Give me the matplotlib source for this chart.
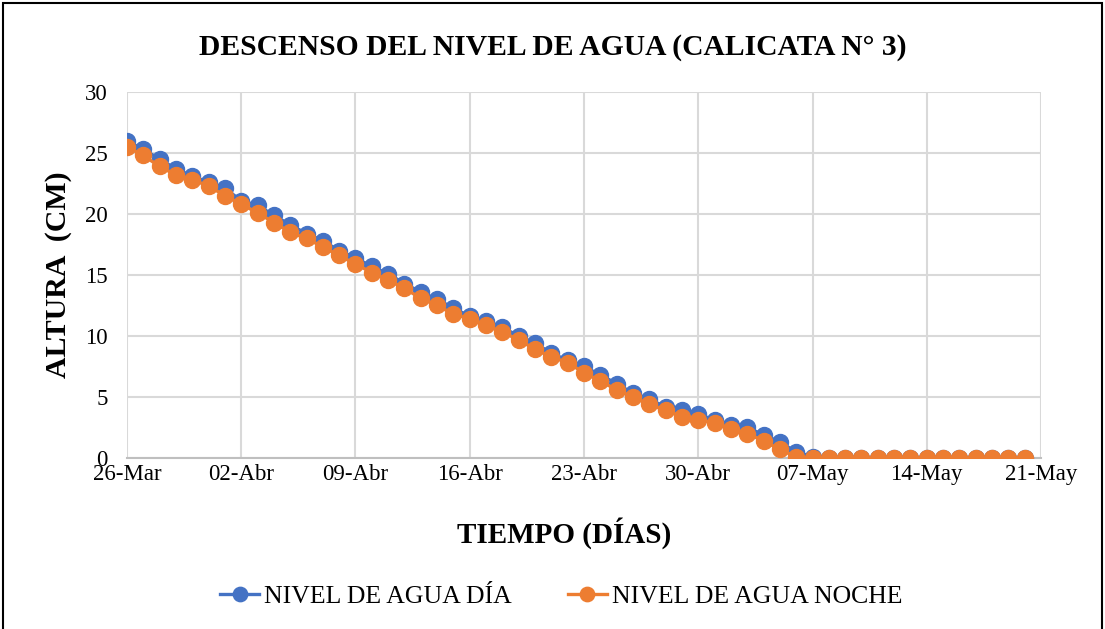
import matplotlib
matplotlib.use("Agg")
import matplotlib.pyplot as plt
import pandas as pd
from matplotlib.patches import Rectangle

plt.rcParams['font.family'] = ['Liberation Serif', 'DejaVu Serif']

start_date = "2021-03-26"
nivel_dia = [26.0, 25.3, 24.5, 23.7, 23.1, 22.6, 22.1, 21.1, 20.7, 19.9,
             19.1, 18.4, 17.8, 17.0, 16.4, 15.7, 15.1, 14.3, 13.6, 13.0,
             12.3, 11.6, 11.2, 10.7, 10.0, 9.4, 8.6, 8.0, 7.5, 6.8,
             6.1, 5.3, 4.8, 4.2, 3.9, 3.6, 3.1, 2.7, 2.5, 1.9,
             1.3, 0.5, 0.1, 0, 0, 0, 0, 0, 0, 0,
             0, 0, 0, 0, 0, 0]
nivel_noche = [25.5, 24.8, 23.9, 23.2, 22.8, 22.3, 21.5, 20.8, 20.1, 19.3,
               18.5, 18.0, 17.3, 16.6, 15.9, 15.2, 14.6, 13.9, 13.1, 12.5,
               11.8, 11.4, 10.9, 10.3, 9.7, 8.9, 8.3, 7.8, 7.0, 6.3,
               5.6, 5.0, 4.4, 3.9, 3.4, 3.1, 2.9, 2.4, 2.0, 1.4,
               0.7, 0.1, 0, 0, 0, 0, 0, 0, 0, 0,
               0, 0, 0, 0, 0, 0]
tick_dates = ["2021-03-26", "2021-04-02", "2021-04-09", "2021-04-16", "2021-04-23",
              "2021-04-30", "2021-05-07", "2021-05-14", "2021-05-21"]
tick_labels = ["26-Mar", "02-Abr", "09-Abr", "16-Abr", "23-Abr",
               "30-Abr", "07-May", "14-May", "21-May"]

dates = pd.date_range(start_date, periods=len(nivel_dia), freq="D")
ticks = pd.to_datetime(tick_dates)

fig = plt.figure(figsize=(11.05, 6.29), dpi=100)
ax = fig.add_axes([0.1149, 0.2719, 0.8272, 0.5818])

blue = "#4472C4"
orange = "#ED7D31"
ax.plot(dates, nivel_dia, color=blue, lw=2.4, marker='o', ms=11.5,
        label="NIVEL DE AGUA DÍA", zorder=3)
ax.plot(dates, nivel_noche, color=orange, lw=2.4, marker='o', ms=11.5,
        label="NIVEL DE AGUA NOCHE", zorder=4)

ax.set_xlim(ticks[0], ticks[-1])
ax.set_ylim(0, 30)
ax.set_xticks(ticks)
ax.set_xticklabels(tick_labels)
ax.set_yticks(range(0, 31, 5))
ax.grid(True, color="#D9D9D9", lw=1.5)
ax.set_axisbelow(True)
for s in ["top", "right", "left"]:
    ax.spines[s].set_visible(False)
ax.spines["bottom"].set_color("#BFBFBF")
ax.spines["bottom"].set_linewidth(1.5)
ax.tick_params(axis='both', length=0, labelsize=16.5, colors="black")
ax.tick_params(axis='x', pad=4)
ax.tick_params(axis='y', pad=14)
ax.set_xlabel("TIEMPO (DÍAS)", fontsize=21, fontweight='bold')
ax.xaxis.set_label_coords(0.478, -0.163)
ax.set_ylabel("ALTURA  (CM)", fontsize=21.5, fontweight='bold')
ax.yaxis.set_label_coords(-0.06, 0.5)

fig.text(0.5, 0.925, "DESCENSO DEL NIVEL DE AGUA (CALICATA N° 3)",
         ha='center', va='center', fontsize=21.3, fontweight='bold')

leg = fig.legend(loc='center', bbox_to_anchor=(0.508, 0.052), ncol=2, frameon=False,
                 fontsize=18.5, handlelength=1.5, columnspacing=2.2, handletextpad=0.2,
                 markerscale=0.9)

fig.add_artist(Rectangle((0.003, -0.01), 0.994, 1.005, transform=fig.transFigure,
                         fill=False, edgecolor="black", lw=1.5))

fig.savefig("out.png", dpi=100)
